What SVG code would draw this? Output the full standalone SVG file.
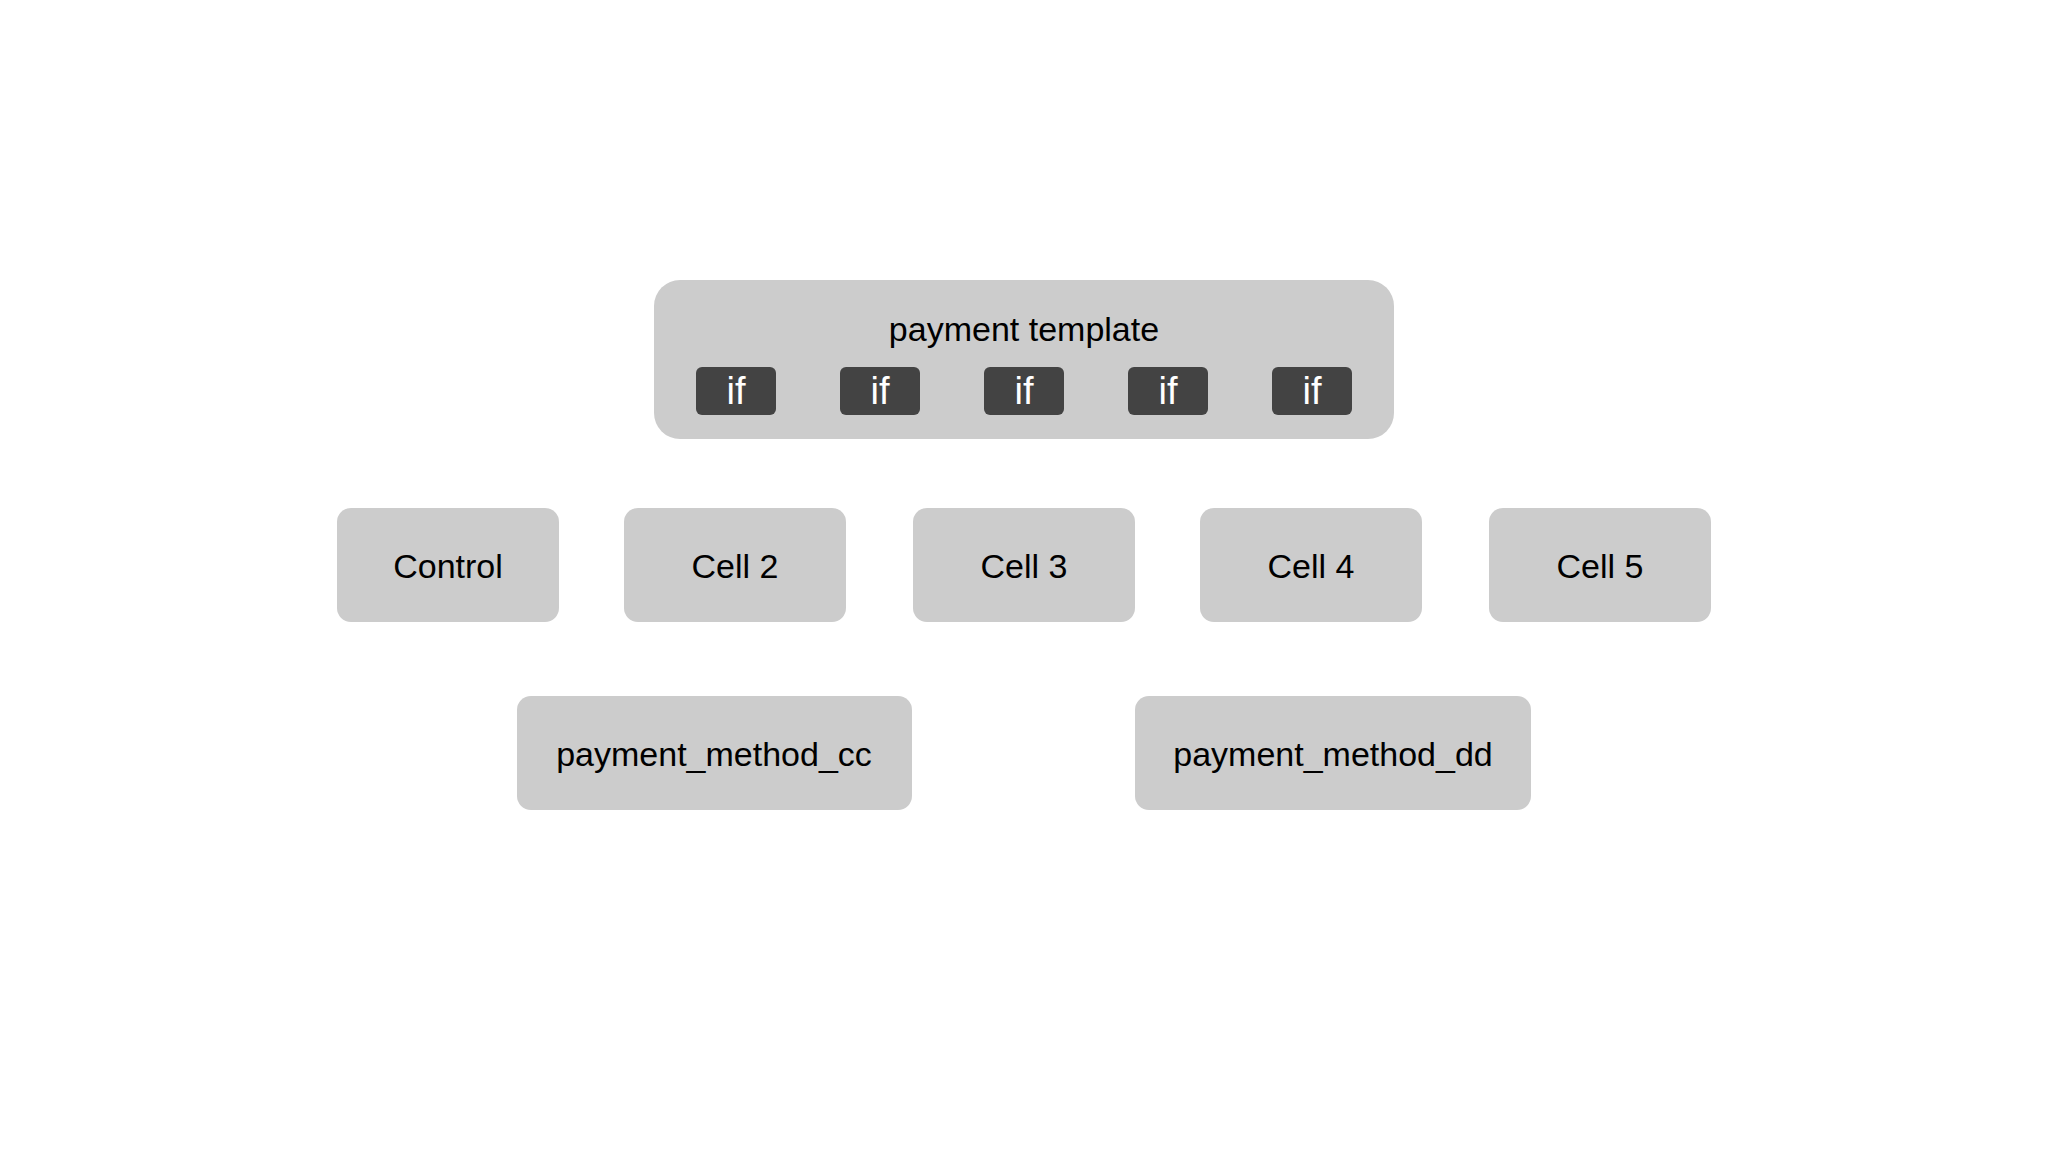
<svg xmlns="http://www.w3.org/2000/svg" width="2048" height="1152" viewBox="0 0 2048 1152">
<style>
.box{fill:#cccccc}
.dark{fill:#434343}
.t{font-family:"Liberation Sans",Arial,sans-serif;font-size:34px;fill:#000;text-anchor:middle;dominant-baseline:central}
.w{font-family:"Liberation Sans",Arial,sans-serif;font-size:38px;fill:#fff;text-anchor:middle;dominant-baseline:central}
</style>
<rect width="2048" height="1152" fill="#fff"/>
<g id="template">
<rect class="box" x="654" y="280" width="740" height="159" rx="26"/>
<text class="t" x="1024" y="329">payment template</text>
<rect class="dark" x="696" y="367" width="80" height="48" rx="6"/><text class="w" x="736" y="391">if</text>
<rect class="dark" x="840" y="367" width="80" height="48" rx="6"/><text class="w" x="880" y="391">if</text>
<rect class="dark" x="984" y="367" width="80" height="48" rx="6"/><text class="w" x="1024" y="391">if</text>
<rect class="dark" x="1128" y="367" width="80" height="48" rx="6"/><text class="w" x="1168" y="391">if</text>
<rect class="dark" x="1272" y="367" width="80" height="48" rx="6"/><text class="w" x="1312" y="391">if</text>
</g>
<g id="control"><rect class="box" x="337" y="508" width="222" height="114" rx="14"/><text class="t" x="448" y="566">Control</text></g>
<g id="cell2"><rect class="box" x="624" y="508" width="222" height="114" rx="14"/><text class="t" x="735" y="566">Cell 2</text></g>
<g id="cell3"><rect class="box" x="913" y="508" width="222" height="114" rx="14"/><text class="t" x="1024" y="566">Cell 3</text></g>
<g id="cell4"><rect class="box" x="1200" y="508" width="222" height="114" rx="14"/><text class="t" x="1311" y="566">Cell 4</text></g>
<g id="cell5"><rect class="box" x="1489" y="508" width="222" height="114" rx="14"/><text class="t" x="1600" y="566">Cell 5</text></g>
<g id="cc"><rect class="box" x="517" y="696" width="395" height="114" rx="14"/><text class="t" x="714" y="754">payment_method_cc</text></g>
<g id="dd"><rect class="box" x="1135" y="696" width="396" height="114" rx="14"/><text class="t" x="1333" y="754">payment_method_dd</text></g>
<g id="connectors"/>
</svg>
